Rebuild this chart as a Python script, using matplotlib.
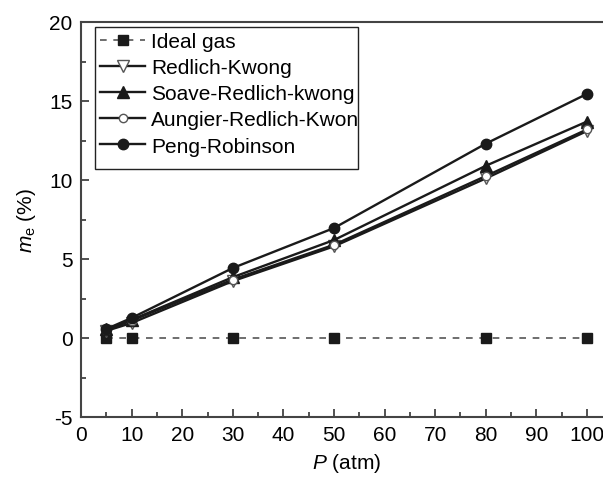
import matplotlib
matplotlib.use("Agg")
import matplotlib.pyplot as plt
from matplotlib.patches import Rectangle
from matplotlib.transforms import Bbox
from matplotlib.ticker import MultipleLocator

# pressure (atm) and relative error m_e (%) per equation of state
pressure = [5, 10, 30, 50, 80, 100]
ideal_gas = [0, 0, 0, 0, 0, 0]
redlich_kwong = [0.45, 0.95, 3.6, 5.8, 10.1, 13.1]
soave_rk = [0.55, 1.15, 3.85, 6.2, 10.9, 13.7]
aungier_rk = [0.5, 1.1, 3.7, 5.9, 10.25, 13.2]
peng_robinson = [0.57, 1.27, 4.43, 6.96, 12.3, 15.45]

plt.rcParams["font.family"] = ["Liberation Sans", "DejaVu Sans"]
plt.rcParams["mathtext.fontset"] = "custom"
plt.rcParams["mathtext.rm"] = "Liberation Sans"
plt.rcParams["mathtext.it"] = "Liberation Sans:italic"
plt.rcParams["axes.unicode_minus"] = False

W, H = 603, 481
fig = plt.figure(figsize=(W / 100, H / 100), dpi=100)
px = 5.06  # pixels per atm
ax = fig.add_axes([81 / W, (H - 418) / H, 105 * px / W, (418 - 23) / H])

ax.plot(pressure, ideal_gas, ls=(0, (4, 4)), color="#555555", lw=1.2,
        marker="s", ms=7, mfc="#1a1a1a", mec="#1a1a1a", label="Ideal gas")
ax.plot(pressure, redlich_kwong, "-", color="#1a1a1a", lw=1.7,
        marker="v", ms=8, mfc="white", mec="#555555", mew=1, label="Redlich-Kwong")
ax.plot(pressure, soave_rk, "-", color="#1a1a1a", lw=1.7,
        marker="^", ms=8, mfc="#1a1a1a", mec="#1a1a1a", label="Soave-Redlich-kwong")
ax.plot(pressure, aungier_rk, "-", color="#1a1a1a", lw=1.7,
        marker="o", ms=6, mfc="white", mec="#555555", mew=1, label="Aungier-Redlich-Kwong")
ax.plot(pressure, peng_robinson, "-", color="#1a1a1a", lw=1.7,
        marker="o", ms=7.5, mfc="#1a1a1a", mec="#1a1a1a", label="Peng-Robinson")

ax.set_xlim(0, 105)
ax.set_ylim(-5, 20)
ax.xaxis.set_major_locator(MultipleLocator(10))
ax.xaxis.set_minor_locator(MultipleLocator(5))
ax.yaxis.set_major_locator(MultipleLocator(5))
ax.yaxis.set_minor_locator(MultipleLocator(2.5))
ax.tick_params(which="both", direction="in", labelsize=15, color="#333333",
               width=1.2, top=False, right=False)
ax.tick_params(which="major", length=6, pad=6)
ax.tick_params(which="minor", length=3.5)
for s in ax.spines.values():
    s.set_color("#444444")
    s.set_linewidth(1.5)

ax.set_xlabel(r"$P$ (atm)", fontsize=15, labelpad=5)
ax.set_ylabel(r"$m_\mathrm{e}$ (%)", fontsize=15, labelpad=8)

# legend text runs past the frame in the original, so draw the frame by hand
leg = ax.legend(loc="upper left", bbox_to_anchor=(95 / W, 1 - 28 / H),
                bbox_transform=fig.transFigure, borderaxespad=0, fontsize=15,
                labelspacing=0.34, handlelength=2.15, handletextpad=0.3,
                borderpad=0.25, frameon=False)
x0, y0, x1, y1 = 95, 28, 358, 170
frame = Rectangle((x0 / W, 1 - y1 / H), (x1 - x0) / W, (y1 - y0) / H,
                  transform=fig.transFigure, fill=False, ec="#222222", lw=1.0,
                  zorder=10)
fig.add_artist(frame)
clip = Bbox([[x0, H - y1], [x1, H - y0]])
for t in leg.get_texts():
    t.set_clip_box(clip)
    t.set_clip_on(True)

fig.savefig("out.png", dpi=100)
